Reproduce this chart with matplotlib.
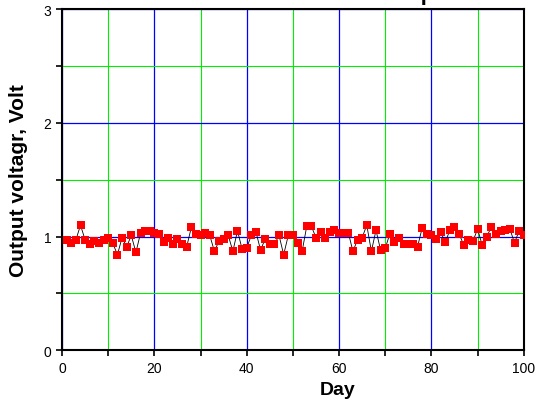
import matplotlib
matplotlib.use('Agg')
import matplotlib.pyplot as plt
from matplotlib.ticker import MultipleLocator
import numpy as np

plt.rcParams['font.family'] = ['Liberation Sans', 'DejaVu Sans']

# daily output voltage readings, days 1..100
days = list(range(1, 101))
volts = [0.97, 0.94, 0.97, 1.10, 0.97, 0.93, 0.96, 0.94, 0.97, 0.99,
         0.94, 0.84, 0.99, 0.91, 1.01, 0.86, 1.03, 1.045, 1.05, 1.035,
         1.02, 0.95, 0.985, 0.93, 0.98, 0.93, 0.91, 1.08, 1.02, 1.01,
         1.03, 1.01, 0.87, 0.96, 0.98, 1.01, 0.87, 1.05, 0.89, 0.90,
         1.01, 1.04, 0.88, 0.98, 0.93, 0.93, 1.01, 0.84, 1.01, 1.01,
         0.94, 0.87, 1.09, 1.09, 0.99, 1.04, 0.99, 1.04, 1.06, 1.035,
         1.035, 1.035, 0.87, 0.97, 0.99, 1.10, 0.87, 1.055, 0.88, 0.895,
         1.025, 0.95, 0.99, 0.93, 0.93, 0.93, 0.91, 1.075, 1.025, 1.01,
         0.98, 1.04, 0.95, 1.055, 1.085, 1.025, 0.925, 0.97, 0.96, 1.065,
         0.925, 1.00, 1.085, 1.025, 1.05, 1.055, 1.065, 0.945, 1.05, 1.01]

fig = plt.figure(figsize=(5.49, 4.06), dpi=100)
ax = fig.add_axes([0.113, 0.135, 0.841, 0.84])

ax.plot(days, volts, color='black', linewidth=0.6, zorder=3)
ax.plot(days, volts, linestyle='none', marker='s', markersize=5.2,
        color='#ff0000', markeredgewidth=0, zorder=4)

ax.set_xlim(0, 100)
ax.set_ylim(0, 3)
ax.xaxis.set_major_locator(MultipleLocator(20))
ax.xaxis.set_minor_locator(MultipleLocator(10))
ax.yaxis.set_major_locator(MultipleLocator(1))
ax.yaxis.set_minor_locator(MultipleLocator(0.5))

ax.grid(which='major', color='#0000ff', linewidth=0.9, zorder=1)
ax.grid(which='minor', color='#00ee00', linewidth=0.8, zorder=1)
ax.set_axisbelow(True)

for s in ax.spines.values():
    s.set_linewidth(1.5)
ax.tick_params(which='both', direction='out', length=4, width=1.2, labelsize=10)
ax.tick_params(top=False, right=False)

ax.set_xlabel('Day', fontsize=14, fontweight='bold')
ax.xaxis.set_label_coords(0.597, -0.09)
ax.set_ylabel('Output voltagr, Volt', fontsize=15, fontweight='bold')
ax.yaxis.set_label_coords(-0.074, 0.5)

# title sits mostly above the top edge, as in the original
fig.text(0.596, 0.9988, 'Results of the converter operation', ha='center',
         va='baseline', fontsize=16, fontweight='bold')

fig.savefig('out.png', dpi=100)
